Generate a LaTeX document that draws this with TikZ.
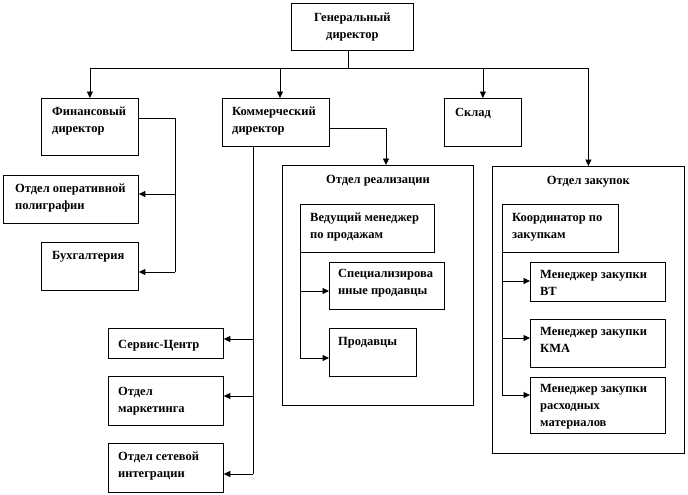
\documentclass[tikz,border=0pt]{standalone}
\usepackage{fontspec}
\setmainfont{Liberation Serif}
\usetikzlibrary{arrows.meta}
\begin{document}
\begin{tikzpicture}[x=1pt,y=-1pt,
  box/.style={draw, line width=0.8pt, anchor=north west, inner sep=0pt},
  lbl/.style={anchor=north west, inner sep=0pt, align=left, font=\bfseries\fontsize{12.5}{17}\selectfont},
  ttl/.style={anchor=north, inner sep=0pt, align=center, font=\bfseries\fontsize{12.5}{17}\selectfont},
  wire/.style={line width=0.8pt},
  arr/.style={wire, -{Triangle[length=6.5pt,width=6pt]}}]
\useasboundingbox (0,0) rectangle (688,495);

% boxes
\node[box, minimum width=122pt, minimum height=47pt] (gen) at (291,3) {};
\node[box, minimum width=97pt, minimum height=57pt] (fin) at (41,98) {};
\node[box, minimum width=107pt, minimum height=48pt] (comm) at (222,98) {};
\node[box, minimum width=77pt, minimum height=48pt] (sklad) at (444,98) {};
\node[box, minimum width=135pt, minimum height=48pt] (oper) at (3,175) {};
\node[box, minimum width=97pt, minimum height=48pt] (bukh) at (41,242) {};
\node[box, minimum width=191pt, minimum height=240pt] (real) at (282,165) {};
\node[box, minimum width=134pt, minimum height=48pt] (vm) at (300,204) {};
\node[box, minimum width=115pt, minimum height=47pt] (spec) at (329,262) {};
\node[box, minimum width=87pt, minimum height=48pt] (prod) at (329,328) {};
\node[box, minimum width=192pt, minimum height=287pt] (zak) at (492,166) {};
\node[box, minimum width=116pt, minimum height=48pt] (koord) at (502,204) {};
\node[box, minimum width=135pt, minimum height=39pt] (vt) at (530,262) {};
\node[box, minimum width=135pt, minimum height=48pt] (kma) at (530,319) {};
\node[box, minimum width=135pt, minimum height=56pt] (rash) at (530,377) {};
\node[box, minimum width=115pt, minimum height=30pt] (serv) at (108,328) {};
\node[box, minimum width=115pt, minimum height=49pt] (mark) at (108,376) {};
\node[box, minimum width=115pt, minimum height=49pt] (set) at (108,443) {};

% texts
\node[lbl, anchor=center, align=center] (gen-t) at (gen.center) {Генеральный\\директор};
\node[lbl] (fin-t) at ([shift={(11,9)}]fin.north west) {Финансовый\\директор};
\node[lbl] (comm-t) at ([shift={(10,9)}]comm.north west) {Коммерческий\\директор};
\node[lbl] (sklad-t) at ([shift={(11,10)}]sklad.north west) {Склад};
\node[lbl] (oper-t) at ([shift={(12,9)}]oper.north west) {Отдел оперативной\\полиграфии};
\node[lbl] (bukh-t) at ([shift={(11,9)}]bukh.north west) {Бухгалтерия};
\node[ttl] (real-t) at ([shift={(0,10)}]real.north) {Отдел реализации};
\node[lbl] (vm-t) at ([shift={(10,9)}]vm.north west) {Ведущий менеджер\\по продажам};
\node[lbl] (spec-t) at ([shift={(9,7)}]spec.north west) {Специализирова\\нные продавцы};
\node[lbl] (prod-t) at ([shift={(9,9)}]prod.north west) {Продавцы};
\node[ttl] (zak-t) at ([shift={(0,10)}]zak.north) {Отдел закупок};
\node[lbl] (koord-t) at ([shift={(10,9)}]koord.north west) {Координатор по\\закупкам};
\node[lbl] (vt-t) at ([shift={(10,8)}]vt.north west) {Менеджер закупки\\ВТ};
\node[lbl] (kma-t) at ([shift={(10,8)}]kma.north west) {Менеджер закупки\\КМА};
\node[lbl] (rash-t) at ([shift={(10,7)}]rash.north west) {Менеджер закупки\\расходных\\материалов};
\node[lbl] (serv-t) at ([shift={(10,12)}]serv.north west) {Сервис-Центр};
\node[lbl] (mark-t) at ([shift={(10,11)}]mark.north west) {Отдел\\маркетинга};
\node[lbl] (set-t) at ([shift={(10,9)}]set.north west) {Отдел сетевой\\интеграции};

% general director bus
\coordinate (gj) at (348,68);
\coordinate (cN) at (280,98);
\draw[wire] (gen.south -| gj) -- (gj);
\draw[arr] (gj) -| (fin.north);
\draw[arr] (gj) -| (comm.north -| cN);
\draw[arr] (gj) -| (sklad.north);
\draw[arr] (gj) -| (zak.north);

% financial director
\coordinate (fA) at (175,118);
\coordinate (fB) at (175,194);
\coordinate (fC) at (175,272);
\draw[wire] (fin.east |- fA) -- (fA) -- (fC);
\draw[arr] (fB) -- (oper.east |- fB);
\draw[arr] (fC) -- (bukh.east |- fC);

% commercial director -> sales dept
\coordinate (cA) at (386,128);
\draw[arr] (comm.east |- cA) -- (cA) -- (real.north -| cA);

% commercial director trunk
\coordinate (cB) at (253,339);
\coordinate (cC) at (253,396);
\coordinate (cD) at (253,474);
\draw[wire] (comm.south -| cB) -- (cD);
\draw[arr] (cB) -- (serv.east |- cB);
\draw[arr] (cC) -- (mark.east |- cC);
\draw[arr] (cD) -- (set.east |- cD);

% lead sales manager
\coordinate (vB) at (300,291);
\coordinate (vC) at (300,358);
\draw[wire] (vm.south west) -- (vC);
\draw[arr] (vB) -- (spec.west |- vB);
\draw[arr] (vC) -- (prod.west |- vC);

% purchasing coordinator
\coordinate (kB) at (502,281);
\coordinate (kC) at (502,338);
\coordinate (kD) at (502,395);
\draw[wire] (koord.south west) -- (kD);
\draw[arr] (kB) -- (vt.west |- kB);
\draw[arr] (kC) -- (kma.west |- kC);
\draw[arr] (kD) -- (rash.west |- kD);
\end{tikzpicture}
\end{document}
